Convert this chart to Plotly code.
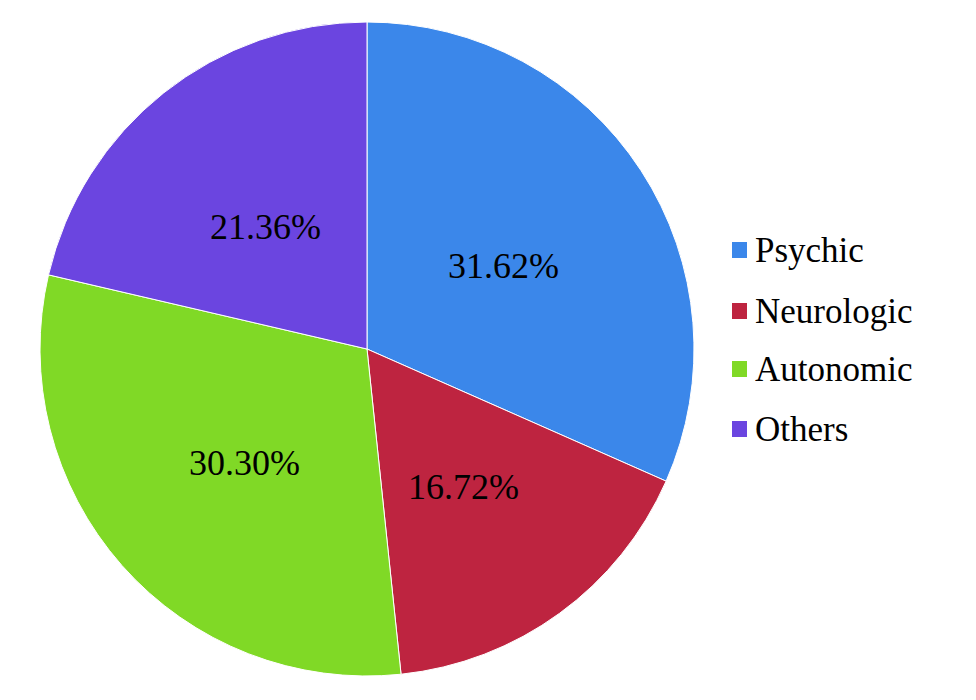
import math
import plotly.graph_objects as go

categories = ["Psychic", "Neurologic", "Autonomic", "Others"]
values = [31.62, 16.72, 30.30, 21.36]
colors = ["#3B87EA", "#BE2440", "#80D926", "#6B45E0"]

W, H = 976, 700
cx, cy, r = 367, 349, 327
FONT = "Liberation Serif, Times New Roman, serif"

fig = go.Figure(go.Pie(
    labels=categories,
    values=values,
    sort=False,
    direction="clockwise",
    rotation=0,
    marker=dict(colors=colors, line=dict(color="white", width=1)),
    textinfo="none",
    domain=dict(x=[(cx - r) / W, (cx + r) / W], y=[1 - (cy + r) / H, 1 - (cy - r) / H]),
    showlegend=False,
    hoverinfo="label+percent",
))

shapes, annotations = [], []

# percentage labels at half radius along each slice's mid-angle
total = sum(values)
cum = 0.0
for v in values:
    mid = (cum + v / 2) / total * 2 * math.pi
    cum += v
    px = cx + 0.5 * r * math.sin(mid)
    py = cy - 0.5 * r * math.cos(mid) + 6
    annotations.append(dict(text=f"{v / total * 100:.2f}%", xref="paper", yref="paper",
                            x=px / W, y=1 - py / H, xanchor="center", yanchor="middle",
                            showarrow=False, font=dict(family=FONT, size=36, color="black")))

# manual legend (for spacing control)
leg_y = [250, 311, 369, 429]
for cat, col, y in zip(categories, colors, leg_y):
    shapes.append(dict(type="rect", xref="paper", yref="paper",
                       x0=732 / W, x1=747 / W, y0=1 - (y + 8) / H, y1=1 - (y - 8) / H,
                       fillcolor=col, line=dict(width=0)))
    annotations.append(dict(text=cat, xref="paper", yref="paper",
                            x=753 / W, y=1 - y / H, xanchor="left", yanchor="middle",
                            showarrow=False, font=dict(family=FONT, size=35, color="black")))

fig.update_layout(
    width=W, height=H,
    margin=dict(l=0, r=0, t=0, b=0),
    paper_bgcolor="white", plot_bgcolor="white",
    shapes=shapes, annotations=annotations,
)
fig.write_html("out.html", config={"displayModeBar": False},
               post_script="document.body.style.margin='0';")
